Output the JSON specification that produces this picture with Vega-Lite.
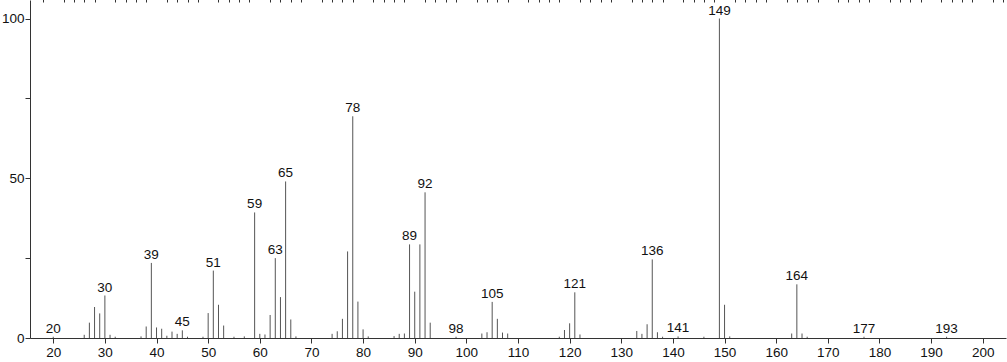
{
  "$schema": "https://vega.github.io/schema/vega-lite/v6.json",
  "width": 976,
  "height": 338,
  "autosize": {"type": "none"},
  "padding": {"left": 30, "top": 0, "right": 1, "bottom": 24},
  "background": "white",
  "config": {"view": {"stroke": null}, "font": "Liberation Sans"},
  "data": {
    "values": [
      {"mz": 20, "intensity": 0.4, "lab": 1},
      {"mz": 26, "intensity": 1.0},
      {"mz": 27, "intensity": 4.8},
      {"mz": 28, "intensity": 9.7},
      {"mz": 29, "intensity": 7.7},
      {"mz": 30, "intensity": 13.3, "lab": 1},
      {"mz": 31, "intensity": 1.0},
      {"mz": 32, "intensity": 0.4},
      {"mz": 37, "intensity": 0.5},
      {"mz": 38, "intensity": 3.6},
      {"mz": 39, "intensity": 23.5, "lab": 1},
      {"mz": 40, "intensity": 3.3},
      {"mz": 41, "intensity": 2.9},
      {"mz": 42, "intensity": 0.7},
      {"mz": 43, "intensity": 2.0},
      {"mz": 44, "intensity": 1.3},
      {"mz": 45, "intensity": 2.4, "lab": 1},
      {"mz": 46, "intensity": 0.4},
      {"mz": 49, "intensity": 0.4},
      {"mz": 50, "intensity": 7.8},
      {"mz": 51, "intensity": 21.1, "lab": 1},
      {"mz": 52, "intensity": 10.4},
      {"mz": 53, "intensity": 3.9},
      {"mz": 55, "intensity": 0.4},
      {"mz": 57, "intensity": 0.5},
      {"mz": 59, "intensity": 39.3, "lab": 1},
      {"mz": 60, "intensity": 1.3},
      {"mz": 61, "intensity": 1.1},
      {"mz": 62, "intensity": 7.2},
      {"mz": 63, "intensity": 25.0, "lab": 1},
      {"mz": 64, "intensity": 12.8},
      {"mz": 65, "intensity": 49.0, "lab": 1},
      {"mz": 66, "intensity": 5.8},
      {"mz": 67, "intensity": 0.5},
      {"mz": 74, "intensity": 1.3},
      {"mz": 75, "intensity": 2.1},
      {"mz": 76, "intensity": 6.0},
      {"mz": 77, "intensity": 27.1},
      {"mz": 78, "intensity": 69.4, "lab": 1},
      {"mz": 79, "intensity": 11.4},
      {"mz": 80, "intensity": 2.7},
      {"mz": 81, "intensity": 0.5},
      {"mz": 86, "intensity": 0.6},
      {"mz": 87, "intensity": 1.3},
      {"mz": 88, "intensity": 1.4},
      {"mz": 89, "intensity": 29.3, "lab": 1},
      {"mz": 90, "intensity": 14.5},
      {"mz": 91, "intensity": 29.3},
      {"mz": 92, "intensity": 45.6, "lab": 1},
      {"mz": 93, "intensity": 4.8},
      {"mz": 98, "intensity": 0.4, "lab": 1},
      {"mz": 103, "intensity": 1.4},
      {"mz": 104, "intensity": 1.8},
      {"mz": 105, "intensity": 11.3, "lab": 1},
      {"mz": 106, "intensity": 6.0},
      {"mz": 107, "intensity": 1.7},
      {"mz": 108, "intensity": 1.4},
      {"mz": 118, "intensity": 0.4},
      {"mz": 119, "intensity": 2.5},
      {"mz": 120, "intensity": 4.6},
      {"mz": 121, "intensity": 14.3, "lab": 1},
      {"mz": 122, "intensity": 1.1},
      {"mz": 133, "intensity": 2.2},
      {"mz": 134, "intensity": 1.3},
      {"mz": 135, "intensity": 4.3},
      {"mz": 136, "intensity": 24.6, "lab": 1},
      {"mz": 137, "intensity": 1.8},
      {"mz": 138, "intensity": 0.4},
      {"mz": 141, "intensity": 0.5, "lab": 1},
      {"mz": 146, "intensity": 0.4},
      {"mz": 149, "intensity": 100, "lab": 1},
      {"mz": 150, "intensity": 10.4},
      {"mz": 151, "intensity": 0.5},
      {"mz": 163, "intensity": 1.4},
      {"mz": 164, "intensity": 16.8, "lab": 1},
      {"mz": 165, "intensity": 1.4},
      {"mz": 166, "intensity": 0.4},
      {"mz": 177, "intensity": 0.4, "lab": 1},
      {"mz": 193, "intensity": 0.4, "lab": 1}
    ]
  },
  "layer": [
    {
      "mark": {"type": "rule", "color": "#555555", "strokeWidth": 1},
      "encoding": {
        "x": {
          "field": "mz", "type": "quantitative",
          "scale": {"domain": [15.5, 204.5], "nice": false, "zero": false},
          "axis": {
            "values": [20, 30, 40, 50, 60, 70, 80, 90, 100, 110, 120, 130, 140, 150, 160, 170, 180, 190, 200],
            "title": null, "grid": false, "labelFontSize": 13.5, "labelColor": "#111111",
            "tickSize": 5, "tickColor": "#333333", "domainColor": "#333333",
            "labelPadding": 2, "labelFlush": false, "labelOverlap": false
          }
        },
        "y": {
          "field": "intensity", "type": "quantitative",
          "scale": {"domain": [0, 105.8], "nice": false},
          "axis": {
            "values": [0, 25, 50, 75, 100],
            "labelExpr": "datum.value % 50 === 0 ? datum.label : ''",
            "title": null, "grid": false, "labelFontSize": 13.5, "labelColor": "#111111",
            "tickSize": 5, "tickColor": "#333333", "domainColor": "#333333",
            "labelPadding": 1, "labelFlush": false, "labelOverlap": false
          }
        },
        "y2": {"datum": 0}
      }
    },
    {
      "transform": [{"filter": "datum.lab === 1"}],
      "mark": {"type": "text", "baseline": "bottom", "align": "center", "dy": -1, "fontSize": 13.5, "color": "#111111"},
      "encoding": {
        "x": {
          "field": "mz", "type": "quantitative",
          "axis": {
            "values": [18, 22, 24, 26, 28, 32, 34, 36, 38, 42, 44, 46, 48, 52, 54, 56, 58, 62, 64, 66, 68, 72, 74, 76, 78, 82, 84, 86, 88, 92, 94, 96, 98, 102, 104, 106, 108, 112, 114, 116, 118, 122, 124, 126, 128, 132, 134, 136, 138, 142, 144, 146, 148, 152, 154, 156, 158, 162, 164, 166, 168, 172, 174, 176, 178, 182, 184, 186, 188, 192, 194, 196, 198, 202, 204],
            "title": null, "grid": false, "labels": false, "domain": false,
            "tickSize": 4, "offset": -2, "tickColor": "#333333"
          }
        },
        "y": {"field": "intensity", "type": "quantitative"},
        "text": {"field": "mz", "type": "quantitative", "format": "d"}
      }
    }
  ],
  "resolve": {"axis": {"x": "independent"}}
}
